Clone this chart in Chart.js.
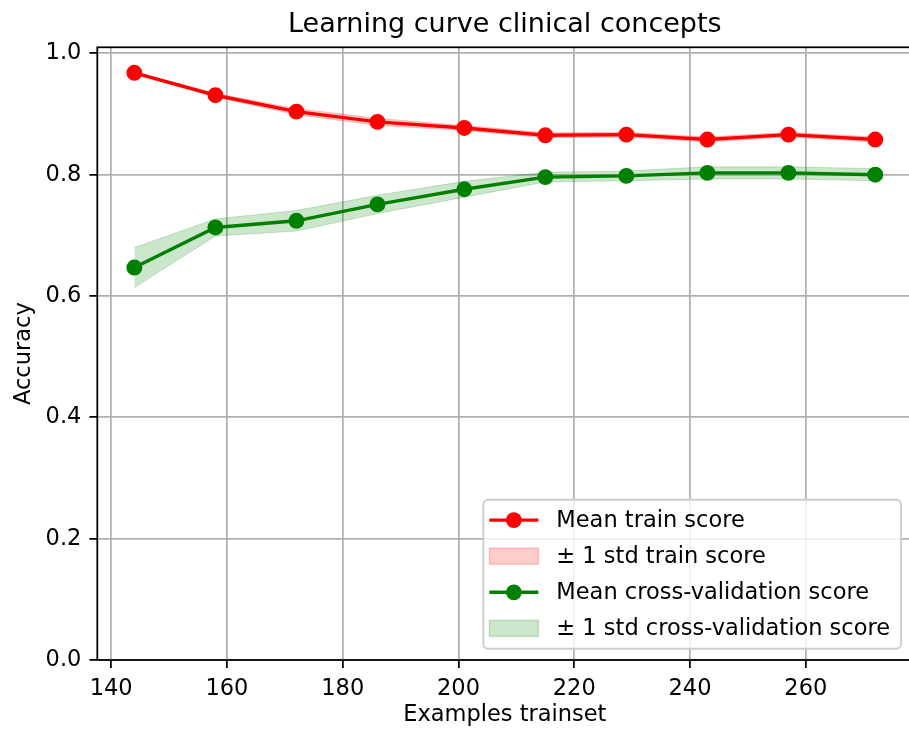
<!DOCTYPE html>
<html>
<head>
<meta charset="utf-8">
<script src="https://cdn.jsdelivr.net/npm/chart.js@4.4.1/dist/chart.umd.min.js"></script>
<style>
  html, body { margin: 0; padding: 0; background: #ffffff; }
  #wrap { width: 909px; height: 731px; overflow: hidden; position: relative; }
  canvas { display: block; }
</style>
</head>
<body>
<div id="wrap"><canvas id="chart" width="921" height="731"></canvas></div>
<script>
// Learning curve: mean scores and ±1 std per training-set size
const trainSizes = [144, 158, 172, 186, 201, 215, 229, 243, 257, 272];
const trainMean  = [0.968, 0.931, 0.904, 0.887, 0.877, 0.865, 0.866, 0.858, 0.866, 0.858];
const trainStd   = [0.001, 0.003, 0.005, 0.006, 0.004, 0.004, 0.004, 0.004, 0.004, 0.004];
const cvMean     = [0.647, 0.713, 0.724, 0.751, 0.776, 0.796, 0.798, 0.803, 0.803, 0.800];
const cvStd      = [0.033, 0.014, 0.017, 0.015, 0.013, 0.008, 0.008, 0.010, 0.010, 0.010];

const xTicks = [140, 160, 180, 200, 220, 240, 260];
const yTicks = [0.0, 0.2, 0.4, 0.6, 0.8, 1.0];

const titleText = 'Learning curve clinical concepts';
const xLabel = 'Examples trainset';
const yLabel = 'Accuracy';
const legendLabels = [
  'Mean train score',
  '\u00b1 1 std train score',
  'Mean cross-validation score',
  '\u00b1 1 std cross-validation score'
];

const RED = '#ff0000';
const GREEN = '#008000';
const RED_FILL = 'rgba(255,0,0,0.2)';
const GREEN_FILL = 'rgba(0,128,0,0.2)';
const FONT = '"DejaVu Sans", "Liberation Sans", sans-serif';
const FS = 22.5;

const pts = (ys) => trainSizes.map((x, i) => ({ x: x, y: ys[i] }));
const upper = (m, s) => m.map((v, i) => v + s[i]);
const lower = (m, s) => m.map((v, i) => v - s[i]);

const bandStyle = (c) => ({
  borderColor: c, backgroundColor: c, borderWidth: 1,
  pointRadius: 0, pointHoverRadius: 0, tension: 0
});

const datasets = [
  Object.assign({ label: 'train+std', data: pts(upper(trainMean, trainStd)), fill: '+1', order: 4 }, bandStyle(RED_FILL)),
  Object.assign({ label: 'train-std', data: pts(lower(trainMean, trainStd)), fill: false, order: 4 }, bandStyle(RED_FILL)),
  Object.assign({ label: 'cv+std', data: pts(upper(cvMean, cvStd)), fill: '+1', order: 3 }, bandStyle(GREEN_FILL)),
  Object.assign({ label: 'cv-std', data: pts(lower(cvMean, cvStd)), fill: false, order: 3 }, bandStyle(GREEN_FILL)),
  {
    label: legendLabels[0], data: pts(trainMean), order: 2, fill: false,
    borderColor: RED, backgroundColor: RED, borderWidth: 3.4,
    pointRadius: 7.2, pointBorderWidth: 1.5, pointBorderColor: RED, pointBackgroundColor: RED,
    tension: 0
  },
  {
    label: legendLabels[2], data: pts(cvMean), order: 1, fill: false,
    borderColor: GREEN, backgroundColor: GREEN, borderWidth: 3.4,
    pointRadius: 7.2, pointBorderWidth: 1.5, pointBorderColor: GREEN, pointBackgroundColor: GREEN,
    tension: 0
  }
];

// Title, axes frame and a lower-right legend in matplotlib style
const decorations = {
  id: 'decorations',
  afterDraw(chart) {
    const ctx = chart.ctx;
    const a = chart.chartArea;
    ctx.save();

    // frame
    ctx.strokeStyle = '#000';
    ctx.lineWidth = 1.75;
    ctx.strokeRect(a.left, a.top, a.right - a.left, a.bottom - a.top);

    // title
    ctx.fillStyle = '#000';
    ctx.font = '27px ' + FONT;
    ctx.textAlign = 'center';
    ctx.textBaseline = 'alphabetic';
    ctx.fillText(titleText, (a.left + a.right) / 2, a.top - 15.5);

    // legend
    ctx.font = FS + 'px ' + FONT;
    let maxW = 0;
    legendLabels.forEach(t => { maxW = Math.max(maxW, ctx.measureText(t).width); });
    const leftPad = 6, handleLen = 49, gap = 18, rightPad = 11;
    const rowH = 36.1, boxH = 149;
    const boxW = leftPad + handleLen + gap + maxW + rightPad;
    const bx = a.right - 11.25 - boxW;
    const by = a.bottom - 11.25 - boxH;

    ctx.beginPath();
    ctx.roundRect(bx, by, boxW, boxH, 4.5);
    ctx.fillStyle = 'rgba(255,255,255,0.8)';
    ctx.fill();
    ctx.strokeStyle = '#cccccc';
    ctx.lineWidth = 1.8;
    ctx.stroke();

    const handles = [
      { kind: 'line', color: RED },
      { kind: 'patch', color: RED_FILL },
      { kind: 'line', color: GREEN },
      { kind: 'patch', color: GREEN_FILL }
    ];
    const first = (boxH - 3 * rowH) / 2;
    handles.forEach((h, i) => {
      const cy = by + first + i * rowH;
      const hx = bx + leftPad;
      if (h.kind === 'line') {
        ctx.beginPath();
        ctx.moveTo(hx, cy);
        ctx.lineTo(hx + handleLen, cy);
        ctx.strokeStyle = h.color;
        ctx.lineWidth = 3.4;
        ctx.stroke();
        ctx.beginPath();
        ctx.arc(hx + handleLen / 2, cy, 7.9, 0, Math.PI * 2);
        ctx.fillStyle = h.color;
        ctx.fill();
      } else {
        ctx.fillStyle = h.color;
        ctx.fillRect(hx, cy - 8, handleLen, 16);
        ctx.strokeStyle = h.color;
        ctx.lineWidth = 1.5;
        ctx.strokeRect(hx, cy - 8, handleLen, 16);
      }
      ctx.fillStyle = '#000';
      ctx.textAlign = 'left';
      ctx.textBaseline = 'middle';
      ctx.fillText(legendLabels[i], hx + handleLen + gap, cy + 1);
    });

    ctx.restore();
  }
};

new Chart(document.getElementById('chart'), {
  type: 'line',
  data: { datasets: datasets },
  plugins: [decorations],
  options: {
    responsive: false,
    devicePixelRatio: 1,
    animation: false,
    events: [],
    layout: { padding: { left: 0, top: 47.3, right: 2.4, bottom: 0 } },
    plugins: {
      legend: { display: false },
      title: { display: false },
      tooltip: { enabled: false },
      filler: { propagate: false }
    },
    scales: {
      x: {
        type: 'linear',
        min: 137.6,
        max: 278.4,
        afterBuildTicks: (s) => { s.ticks = xTicks.map(v => ({ value: v })); },
        afterFit: (s) => { s.height = 71; },
        grid: {
          color: '#b0b0b0', lineWidth: 1.75,
          drawTicks: true, tickLength: 7.9, tickColor: '#000', tickWidth: 1.75
        },
        border: { display: false },
        ticks: {
          autoSkip: false, maxRotation: 0, padding: 8,
          color: '#000', font: { family: FONT, size: FS },
          callback: (v) => String(v)
        },
        title: {
          display: true, text: xLabel, color: '#000',
          font: { family: FONT, size: FS }, padding: { top: 0, bottom: 2 }
        }
      },
      y: {
        type: 'linear',
        min: 0,
        max: 1.01,
        afterBuildTicks: (s) => { s.ticks = yTicks.map(v => ({ value: v })); },
        afterFit: (s) => { s.width = 97.3; },
        grid: {
          color: '#b0b0b0', lineWidth: 1.75,
          drawTicks: true, tickLength: 7.9, tickColor: '#000', tickWidth: 1.75
        },
        border: { display: false },
        ticks: {
          autoSkip: false, padding: 8,
          color: '#000', font: { family: FONT, size: FS },
          callback: (v) => Number(v).toFixed(1)
        },
        title: {
          display: true, text: yLabel, color: '#000',
          font: { family: FONT, size: FS }, padding: { top: 10.5, bottom: 0 }
        }
      }
    }
  }
});
</script>
</body>
</html>
